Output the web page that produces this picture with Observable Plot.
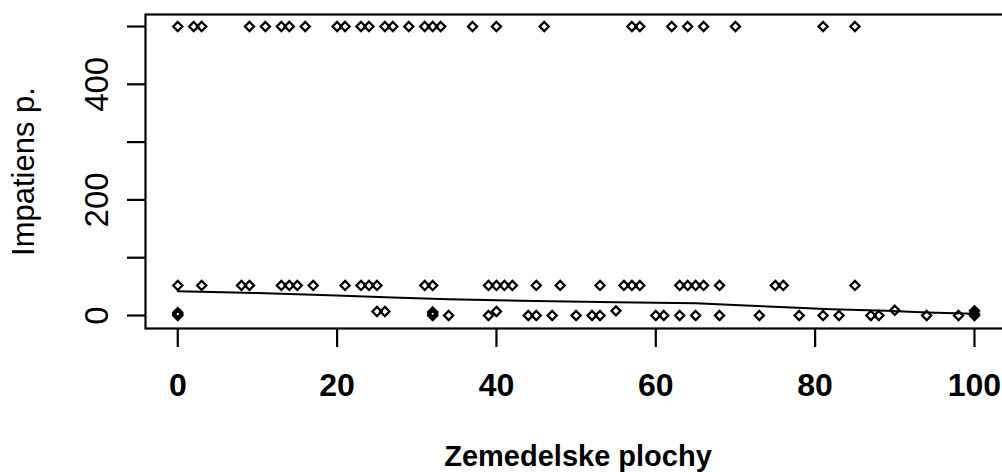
<!DOCTYPE html>
<html><head><meta charset="utf-8">
<script src="https://cdn.jsdelivr.net/npm/d3@7"></script>
<script src="https://cdn.jsdelivr.net/npm/@observablehq/plot@0.6"></script>
<style>html,body{margin:0;padding:0;background:#fff;overflow:hidden}</style>
</head><body><div id="chart"></div>
<script>
// Observations at the top level (500)
const highX = [0,2,3,9,11,13,14,16,20,21,23,24,26,27,29,31,32,33,37,40,46,57,58,62,64,66,70,81,85];
const highValue = 500;
// Observations at the middle level (~52)
const midX = [0,3,8,9,13,14,15,17,21,23,24,25,31,32,39,40,41,42,45,48,53,56,57,58,63,64,65,66,68,75,76,85];
const midValue = 52;
// Observations near zero
const lowX = [0,0,0,25,26,32,32,32,34,39,40,44,45,47,50,52,53,55,60,61,63,65,68,73,78,81,83,87,88,90,94,98,100,100,100];
const lowY = [0,2,5,7,7,0,3,6,0,0,7,0,0,0,0,0,0,8,0,0,0,0,0,0,0,0,0,0,0,9,0,0,0,3,8];
// Fitted curve
const fitX = [0,10,19,27,34,45,55,65,72,77,82,89,94,100];
const fitY = [42,39,35,31,28,25,23,21,17,14,11,8,5,3];
// Axes
const xTicks = [0,20,40,60,80,100];
const yTicks = [0,100,200,300,400,500];
const yTickLabels = [0,200,400];
const xTitle = "Zemedelske plochy";
const yTitle = "Impatiens p.";

const points = [
  ...highX.map(x => ({x, y: highValue})),
  ...midX.map(x => ({x, y: midValue})),
  ...lowX.map((x, i) => ({x, y: lowY[i]}))
];
const fit = fitX.map((x, i) => ({x, y: fitY[i]}));

const font = "'Liberation Sans', Arial, Helvetica, sans-serif";

const chart = Plot.plot({
  width: 1002,
  height: 472,
  marginLeft: 145,
  marginRight: -2,
  marginTop: 14,
  marginBottom: 144,
  x: {domain: [-4.05, 103.77]},
  y: {domain: [-22.5, 520.8]},
  style: {fontFamily: font, background: "#fff", color: "#000"},
  marks: [
    Plot.frame({stroke: "#000", strokeWidth: 2.2}),
    Plot.axisX({ticks: xTicks, tickSize: 19, tickPadding: 26, fontSize: 32, fontWeight: "bold", strokeWidth: 2.2, label: null}),
    Plot.axisY({ticks: yTicks, tickSize: 18, tickFormat: () => "", strokeWidth: 2.2, label: null}),
    Plot.text(yTickLabels, {y: d => d, text: d => String(d), frameAnchor: "left", textAnchor: "middle", dx: -48, rotate: -90, fontSize: 33, lineAnchor: "middle", fill: "#000"}),
    Plot.text([yTitle], {text: d => d, frameAnchor: "left", textAnchor: "middle", dx: -121, rotate: -90, fontSize: 31, lineAnchor: "middle", fill: "#000"}),
    Plot.text([xTitle], {text: d => d, frameAnchor: "bottom", textAnchor: "middle", dy: 128, dx: 3, fontSize: 29, fontWeight: "bold", lineAnchor: "middle", fill: "#000"}),
    Plot.line(fit, {x: "x", y: "y", stroke: "#000", strokeWidth: 2}),
    Plot.dot(points, {x: "x", y: "y", symbol: "diamond2", r: 4.1, stroke: "#000", strokeWidth: 2.3, fill: "none"})
  ]
});
document.getElementById("chart").appendChild(chart);
</script>
</body></html>
